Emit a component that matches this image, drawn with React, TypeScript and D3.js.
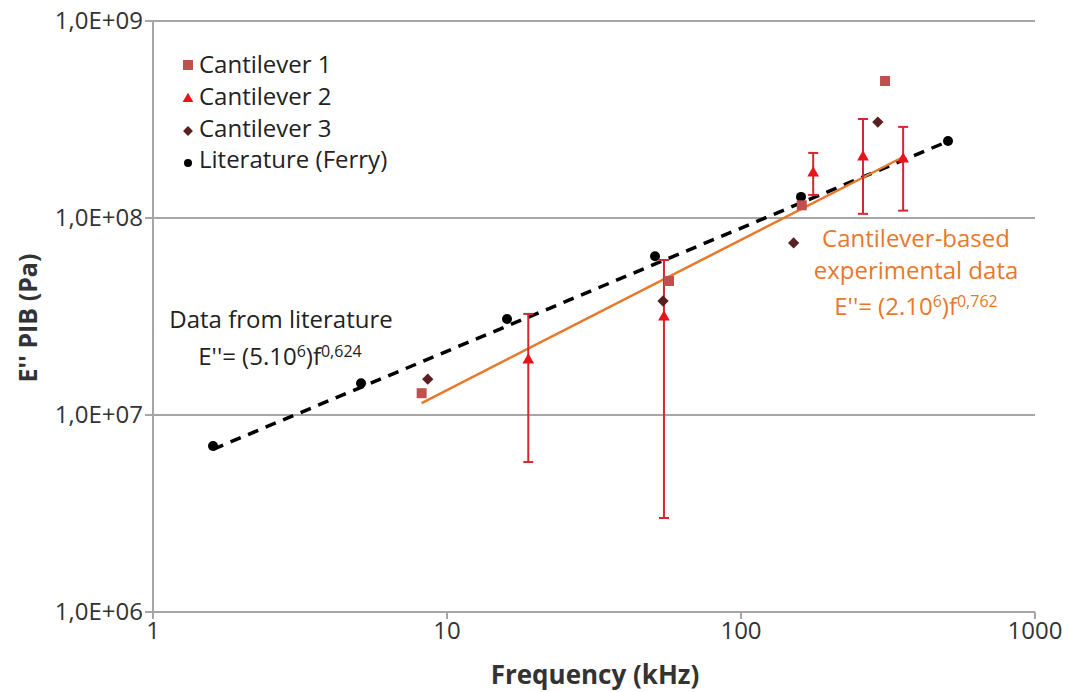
import React from 'react';
import * as d3 from 'd3';

// Literature (Ferry)
const litFreq = [1.6, 5.1, 16, 51, 160, 506];
const litE = [6.96e6, 1.45e7, 3.07e7, 6.4e7, 1.28e8, 2.46e8];

// Cantilever 1
const c1Freq = [8.2, 56.9, 161, 309];
const c1E = [1.29e7, 4.79e7, 1.16e8, 4.96e8];

// Cantilever 2 (with error bars)
const c2Freq = [18.9, 54.7, 176, 260, 356];
const c2E = [1.9e7, 3.14e7, 1.69e8, 2.04e8, 1.99e8];
const c2Low = [5.77e6, 3.0e6, 1.31e8, 1.05e8, 1.09e8];
const c2High = [3.26e7, 6.12e7, 2.14e8, 3.18e8, 2.9e8];

// Cantilever 3
const c3Freq = [8.6, 54.3, 151, 292];
const c3E = [1.52e7, 3.79e7, 7.47e7, 3.07e8];

// trend lines (end points)
const litTrendF = [1.6, 506];
const litTrendE = [6.7e6, 2.45e8];
const cantTrendF = [8.2, 356];
const cantTrendE = [1.15e7, 2.04e8];

const xTicks = [1, 10, 100, 1000];
const yTicks = [1e6, 1e7, 1e8, 1e9];

const width = 1068;
const height = 692;
const margin = { top: 21, right: 33, bottom: 80, left: 153 };

const FONT = '"Open Sans", sans-serif';
const C1 = '#c0504d';
const C2 = '#e8141c';
const C3 = '#5a2020';
const ERR = '#d6262e';
const ORANGE = '#e8782a';

const fmtY = (v: number) => {
  const e = Math.round(Math.log10(v));
  return `1,0E+${String(e).padStart(2, '0')}`;
};

const Diamond = ({ cx, cy, s, fill }: { cx: number; cy: number; s: number; fill: string }) => (
  <rect x={-s / 2} y={-s / 2} width={s} height={s} fill={fill} transform={`translate(${cx},${cy}) rotate(45)`} />
);

export default function App() {
  const x = d3.scaleLog().domain([1, 1000]).range([margin.left, width - margin.right]);
  const y = d3.scaleLog().domain([1e6, 1e9]).range([height - margin.bottom, margin.top]);
  const trend = (fs: number[], es: number[]) =>
    d3.line<number>().x(f => x(f)).y((_, i) => y(es[i]))(fs) || '';

  const tri = d3.symbol().type(d3.symbolTriangle).size(60)() || '';

  const x0 = margin.left;
  const yBottom = height - margin.bottom;

  return (
    <svg width={width} height={height} style={{ position: 'absolute', left: 0, top: 0, background: '#fff' }}
      fontFamily={FONT}>
      {/* gridlines */}
      {yTicks.map(t => (
        <line key={t} x1={x0 - 8} x2={width - margin.right} y1={y(t)} y2={y(t)} stroke="#a6a6a6" strokeWidth={2} />
      ))}
      <line x1={x0} x2={x0} y1={margin.top} y2={yBottom} stroke="#a6a6a6" strokeWidth={2} />
      {xTicks.map(t => (
        <line key={t} x1={x(t)} x2={x(t)} y1={yBottom} y2={yBottom + 7} stroke="#a6a6a6" strokeWidth={2} />
      ))}

      {/* tick labels */}
      {yTicks.map(t => (
        <text key={t} x={x0 - 10} y={y(t)} dy="0.35em" textAnchor="end" fontSize={24} fill="#333">{fmtY(t)}</text>
      ))}
      {xTicks.map(t => (
        <text key={t} x={x(t)} y={yBottom + 27} textAnchor="middle" fontSize={24} fill="#333">{t}</text>
      ))}

      {/* axis titles */}
      <text x={595} y={684} textAnchor="middle" fontSize={26} fontWeight="bold" fill="#333">Frequency (kHz)</text>
      <text transform={`translate(37,318) rotate(-90)`} textAnchor="middle" fontSize={25} fontWeight="bold" fill="#333">E'' PIB (Pa)</text>

      {/* trend lines */}
      <path d={trend(litTrendF, litTrendE)} stroke="#000" strokeWidth={3.5} strokeDasharray="11 8" fill="none" />
      <path d={trend(cantTrendF, cantTrendE)} stroke={ORANGE} strokeWidth={2.5} fill="none" />

      {/* error bars */}
      {c2Freq.map((f, i) => (
        <g key={f} stroke={ERR} strokeWidth={2}>
          <line x1={x(f)} x2={x(f)} y1={y(c2Low[i])} y2={y(c2High[i])} />
          <line x1={x(f) - 5} x2={x(f) + 5} y1={y(c2Low[i])} y2={y(c2Low[i])} />
          <line x1={x(f) - 5} x2={x(f) + 5} y1={y(c2High[i])} y2={y(c2High[i])} />
        </g>
      ))}

      {/* markers */}
      {litFreq.map((f, i) => (
        <circle key={f} cx={x(f)} cy={y(litE[i])} r={5} fill="#000" />
      ))}
      {c1Freq.map((f, i) => (
        <rect key={f} x={x(f) - 5} y={y(c1E[i]) - 5} width={10} height={10} fill={C1} />
      ))}
      {c2Freq.map((f, i) => (
        <path key={f} d={tri} transform={`translate(${x(f)},${y(c2E[i])})`} fill={C2} />
      ))}
      {c3Freq.map((f, i) => (
        <Diamond key={f} cx={x(f)} cy={y(c3E[i])} s={8} fill={C3} />
      ))}

      {/* annotations */}
      <text x={281} y={328} textAnchor="middle" fontSize={24} fill="#222">Data from literature</text>
      <text x={280} y={365} textAnchor="middle" fontSize={24} fill="#222">
        E''= (5.10<tspan dy={-8} fontSize={16}>6</tspan><tspan dy={8}>)f</tspan><tspan dy={-8} fontSize={16}>0,624</tspan>
      </text>
      <g fill={ORANGE} fontSize={24} textAnchor="middle">
        <text x={916} y={247}>Cantilever-based</text>
        <text x={916} y={279}>experimental data</text>
        <text x={916} y={315}>
          E''= (2.10<tspan dy={-8} fontSize={16}>6</tspan><tspan dy={8}>)f</tspan><tspan dy={-8} fontSize={16}>0,762</tspan>
        </text>
      </g>

      {/* legend */}
      <g fontSize={24} fill="#222">
        <rect x={183} y={60} width={10} height={10} fill={C1} />
        <text x={199} y={73}>Cantilever 1</text>
        <path d={d3.symbol().type(d3.symbolTriangle).size(50)() || ''} transform="translate(188,99)" fill={C2} />
        <text x={199} y={105}>Cantilever 2</text>
        <Diamond cx={188} cy={131} s={7} fill={C3} />
        <text x={199} y={137}>Cantilever 3</text>
        <circle cx={188} cy={163} r={4} fill="#000" />
        <text x={199} y={168}>Literature (Ferry)</text>
      </g>
    </svg>
  );
}
